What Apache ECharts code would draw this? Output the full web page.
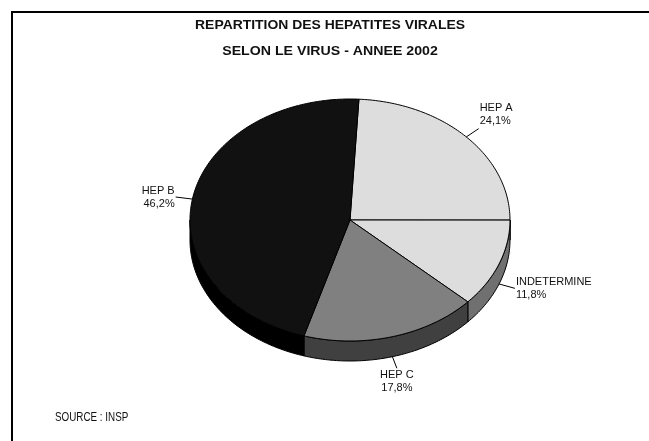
<!DOCTYPE html>
<html><head><meta charset="utf-8">
<script src="https://cdn.jsdelivr.net/npm/echarts@6/dist/echarts.min.js"></script>
<style>html,body{margin:0;padding:0;background:#fff}#c{width:649px;height:441px}</style>
</head><body><div id="c"></div>
<script>
const categories = ['HEP A', 'INDETERMINE', 'HEP C', 'HEP B'];
const values = [24.1, 11.8, 17.8, 46.2];
const valueLabels = ['24,1%', '11,8%', '17,8%', '46,2%'];
const titleLines = ['REPARTITION DES HEPATITES VIRALES', 'SELON LE VIRUS - ANNEE 2002'];
const sourceText = 'SOURCE : INSP';

const topColors = ['#dddddd', '#dddddd', '#808080', '#111111'];
const sideColors = ['#9a9a9a', '#707070', '#404040', '#000000'];

const CX = 350, CY = 220, RX = 160, RY = 121, DEPTH = 20, START = 3.2;
const total = values.reduce((a, b) => a + b, 0);
const cum = []; let acc = 0; values.forEach(v => { cum.push(acc); acc += v; });

function pt(deg, dy, rx, ry) {
  const r = deg * Math.PI / 180;
  return [CX + (rx || RX) * Math.sin(r), CY + (dy || 0) - (ry || RY) * Math.cos(r)];
}
function arcPts(a0, a1, dy) {
  const n = Math.max(2, Math.ceil(a1 - a0));
  const p = [];
  for (let i = 0; i <= n; i++) p.push(pt(a0 + (a1 - a0) * i / n, dy));
  return p;
}
const FONT = '11px Arial, "Liberation Sans", sans-serif';
const TFONT = 'bold 12px Arial, "Liberation Sans", sans-serif';

function renderItem(params, api) {
  const i = params.dataIndex;
  const v = api.value(0);
  const a0 = START + cum[i] / total * 360, a1 = a0 + v / total * 360;
  const children = [];
  const s0 = Math.max(a0, 90), s1 = Math.min(a1, 270);
  if (s1 > s0) {
    const top = arcPts(s0, s1, 0), bot = arcPts(s0, s1, DEPTH).reverse();
    children.push({ type: 'polygon', z2: 1, shape: { points: top.concat(bot) },
      style: { fill: sideColors[i], stroke: '#000', lineWidth: 1 } });
  }
  children.push({ type: 'polygon', z2: 2, shape: { points: [[CX, CY]].concat(arcPts(a0, a1, 0)) },
    style: { fill: topColors[i], stroke: '#000', lineWidth: 1, lineJoin: 'round' } });
  const mid = (a0 + a1) / 2;
  const m = ((mid % 360) + 360) % 360;
  const lower = m > 90 && m < 270;
  const sdy = lower ? DEPTH : 0;
  const p0 = pt(mid, sdy), p1 = pt(mid, sdy, RX + 17, RY + 12);
  children.push({ type: 'polyline', z2: 3, shape: { points: [p0, p1] },
    style: { stroke: '#000', lineWidth: 1, fill: null } });
  const dx = Math.sin(mid * Math.PI / 180), dyv = -Math.cos(mid * Math.PI / 180);
  const align = dx > 0.3 ? 'left' : (dx < -0.3 ? 'right' : 'center');
  const valign = dyv < -0.5 ? 'bottom' : (dyv > 0.5 ? 'top' : 'middle');
  const tx = p1[0] + (align === 'left' ? 1 : align === 'right' ? -1 : 0);
  const ty = p1[1] + (valign === 'bottom' ? -1 : 0);
  children.push({ type: 'text', z2: 3, x: tx, y: ty,
    style: { text: categories[i] + '\n' + valueLabels[i], font: FONT, fill: '#111',
      align: align, verticalAlign: valign, lineHeight: 13 } });
  return { type: 'group', children };
}

const chart = echarts.init(document.getElementById('c'), null, { renderer: 'canvas' });
chart.setOption({
  animation: false,
  backgroundColor: '#fff',
  graphic: [
    { type: 'polyline', shape: { points: [[12, 441], [12, 12], [649, 12]] }, style: { stroke: '#000', lineWidth: 2, fill: null } },
    { type: 'text', x: 330, y: 26, scaleX: 1.16, style: { text: titleLines[0], font: TFONT, fill: '#111', align: 'center', verticalAlign: 'middle' } },
    { type: 'text', x: 330, y: 52, scaleX: 1.18, style: { text: titleLines[1], font: TFONT, fill: '#111', align: 'center', verticalAlign: 'middle' } },
    { type: 'text', x: 55, y: 418, scaleX: 0.82, style: { text: sourceText, font: '12px Arial, "Liberation Sans", sans-serif', fill: '#111', align: 'left', verticalAlign: 'middle' } }
  ],
  series: [{
    type: 'custom',
    coordinateSystem: 'none',
    renderItem: renderItem,
    data: values.map(v => [v])
  }]
});
</script></body></html>
